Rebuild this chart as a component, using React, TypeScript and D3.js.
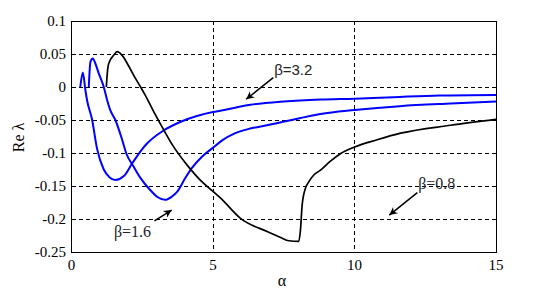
import React from 'react';
import * as d3 from 'd3';

// beta = 3.2 (blue, min near alpha 1.6)
const alpha32 = [0.31, 0.4, 0.49, 0.55, 0.73, 0.9, 1.14, 1.35, 1.55, 1.85, 2.14, 2.5, 2.66, 3.25, 3.84, 4.43, 5.0, 5.26, 6.32, 7.5, 8.8, 10, 11.6, 13, 15];
const re32 = [0, 0.022, -0.0045, -0.02, -0.05, -0.093, -0.125, -0.137, -0.141, -0.135, -0.116, -0.094, -0.086, -0.066, -0.053, -0.044, -0.038, -0.036, -0.027, -0.022, -0.019, -0.0177, -0.015, -0.013, -0.012];

// beta = 1.6 (blue, min near alpha 3.3)
const alpha16 = [0.61, 0.67, 0.75, 0.84, 0.96, 1.14, 1.26, 1.37, 1.55, 1.79, 1.93, 2.2, 2.44, 2.78, 3.05, 3.31, 3.55, 3.73, 4.02, 4.25, 4.6, 4.97, 5.35, 5.73, 6.31, 6.91, 8.09, 8.8, 10, 11.6, 13.4, 15];
const re16 = [0, 0.038, 0.043, 0.036, 0.021, 0, -0.02, -0.035, -0.05, -0.08, -0.1, -0.121, -0.138, -0.156, -0.167, -0.171, -0.166, -0.159, -0.138, -0.123, -0.106, -0.093, -0.08, -0.071, -0.063, -0.058, -0.047, -0.041, -0.035, -0.029, -0.025, -0.022];

// beta = 0.8 (black)
const alpha08 = [1.23, 1.29, 1.37, 1.49, 1.61, 1.79, 2.03, 2.26, 2.44, 2.6, 2.9, 3.13, 3.6, 4.08, 4.55, 4.97, 5.26, 5.97, 6.91, 7.39, 7.68, 8.03, 8.09, 8.15, 8.27, 8.35, 8.57, 8.8, 9.13, 9.5, 10, 10.8, 11.63, 13.4, 15];
const re08 = [0, 0.031, 0.041, 0.048, 0.0535, 0.048, 0.031, 0.013, 0, -0.012, -0.037, -0.055, -0.09, -0.118, -0.141, -0.157, -0.168, -0.199, -0.219, -0.228, -0.233, -0.234, -0.217, -0.179, -0.153, -0.146, -0.133, -0.126, -0.113, -0.101, -0.091, -0.08, -0.07, -0.058, -0.049];

const xTicks = [0, 5, 10, 15];
const yTicks = [0.1, 0.05, 0, -0.05, -0.1, -0.15, -0.2, -0.25];

// annotations: label text, label position, arrow start, arrow tip (data coords)
const notes = [
  { text: 'β=3.2', at: [7.16, 0.0182], from: [7.13, 0.0141], to: [6.17, -0.0186], sans: true },
  { text: 'β=1.6', at: [1.5, -0.2277], from: [2.93, -0.203], to: [3.54, -0.1864], sans: false },
  { text: 'β=0.8', at: [12.25, -0.155], from: [12.22, -0.16], to: [11.23, -0.194], sans: false },
];

const serif = '"Liberation Serif", "Times New Roman", serif';
const sans = '"Liberation Sans", Arial, sans-serif';

export default function App() {
  const width = 549;
  const height = 293;
  const left = 71.5, right = 496, top = 21, bottom = 252;

  const x = d3.scaleLinear().domain([0, 15]).range([left, right]);
  const y = d3.scaleLinear().domain([-0.25, 0.1]).range([bottom, top]);

  const line = d3.line<number[]>()
    .x(d => x(d[0]))
    .y(d => y(d[1]))
    .curve(d3.curveMonotoneX);

  const pts = (a: number[], r: number[]) => a.map((v, i) => [v, r[i]]);

  const curves = [
    { d: pts(alpha32, re32), color: '#0000ff', w: 2 },
    { d: pts(alpha16, re16), color: '#0000ff', w: 2 },
    { d: pts(alpha08, re08), color: '#000000', w: 1.7 },
  ];

  return (
    <svg width={width} height={height} style={{ position: 'absolute', left: 0, top: 0, background: '#fff' }}>
      <defs>
        <marker id="ah" viewBox="0 0 10 10" refX="10" refY="5" markerWidth="11" markerHeight="8"
          markerUnits="userSpaceOnUse" orient="auto">
          <path d="M0,0 L10,5 L0,10 L3,5 Z" fill="#000" />
        </marker>
      </defs>

      {/* grid */}
      <g stroke="#000" strokeWidth={1} strokeDasharray="4,3" shapeRendering="crispEdges">
        {yTicks.filter(t => t < 0.1 && t > -0.25).map(t => (
          <line key={'gy' + t} x1={left} x2={right} y1={Math.round(y(t)) + 0.5} y2={Math.round(y(t)) + 0.5} />
        ))}
        {xTicks.filter(t => t > 0 && t < 15).map(t => (
          <line key={'gx' + t} y1={top} y2={bottom} x1={Math.round(x(t)) + 0.5} x2={Math.round(x(t)) + 0.5} />
        ))}
      </g>

      {/* curves */}
      {curves.map((c, i) => (
        <path key={i} d={line(c.d) || ''} fill="none" stroke={c.color} strokeWidth={c.w} strokeLinejoin="round" />
      ))}

      {/* frame */}
      <rect x={left} y={top + 0.5} width={right - left} height={bottom - top} fill="none" stroke="#000" strokeWidth={1} shapeRendering="crispEdges" />

      {/* y tick labels */}
      {yTicks.map(t => (
        <text key={'ty' + t} x={66} y={y(t)} dy="0.35em" textAnchor="end" fontFamily={serif} fontSize={15} fill="#000">
          {String(t)}
        </text>
      ))}
      {/* x tick labels */}
      {xTicks.map(t => (
        <text key={'tx' + t} x={x(t)} y={269.5} textAnchor="middle" fontFamily={serif} fontSize={15} fill="#000">
          {String(t)}
        </text>
      ))}

      {/* axis labels */}
      <text x={282} y={286} textAnchor="middle" fontFamily={serif} fontSize={16} fill="#000">α</text>
      <text transform="translate(24,137.5) rotate(-90)" textAnchor="middle" fontFamily={serif} fontSize={16} fill="#000">Re λ</text>

      {/* annotations */}
      {notes.map(n => (
        <g key={n.text}>
          <line x1={x(n.from[0])} y1={y(n.from[1])} x2={x(n.to[0])} y2={y(n.to[1])}
            stroke="#000" strokeWidth={1.5} markerEnd="url(#ah)" />
          <text x={x(n.at[0])} y={y(n.at[1])} fontFamily={n.sans ? sans : serif} fontSize={n.sans ? 15 : 16} fill="#222">
            {n.text}
          </text>
        </g>
      ))}
    </svg>
  );
}
